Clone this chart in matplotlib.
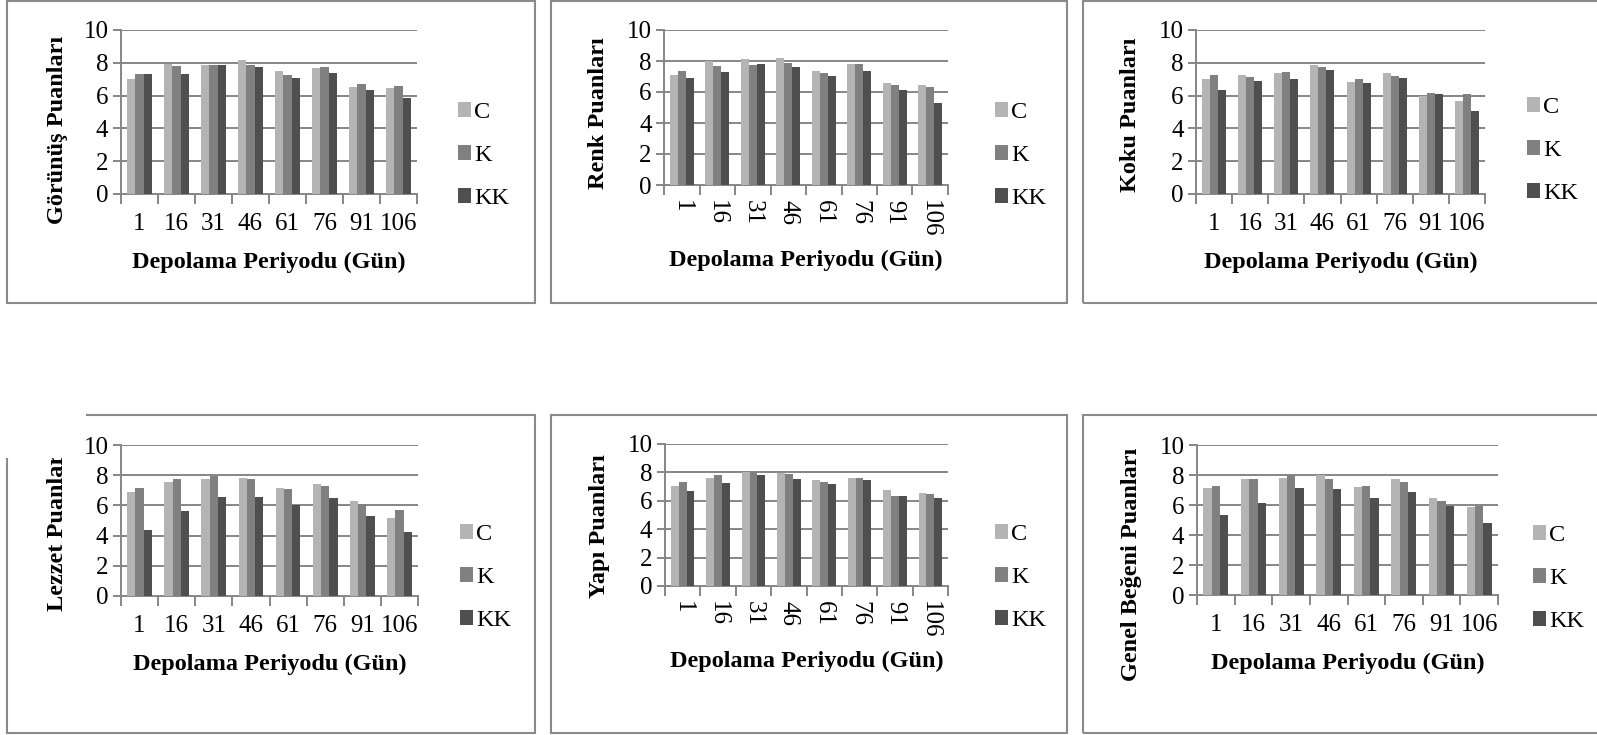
import numpy as np
import matplotlib
matplotlib.use("Agg")
import matplotlib.pyplot as plt
from matplotlib.patches import Rectangle, Patch

days = ["1", "16", "31", "46", "61", "76", "91", "106"]
series = ["C", "K", "KK"]
colors = ["#b4b4b4", "#808080", "#4f4f4f"]

gorunus_C = [7.0, 7.93, 7.87, 8.15, 7.52, 7.66, 6.52, 6.48]
gorunus_K = [7.3, 7.83, 7.87, 7.87, 7.28, 7.74, 6.69, 6.59]
gorunus_KK = [7.3, 7.32, 7.87, 7.76, 7.09, 7.40, 6.32, 5.85]

renk_C = [7.10, 8.03, 8.11, 8.18, 7.34, 7.83, 6.55, 6.42]
renk_K = [7.34, 7.68, 7.77, 7.88, 7.25, 7.83, 6.42, 6.31]
renk_KK = [6.91, 7.32, 7.79, 7.60, 7.04, 7.38, 6.16, 5.28]

koku_C = [6.99, 7.27, 7.35, 7.86, 6.84, 7.37, 5.99, 5.68]
koku_K = [7.27, 7.13, 7.41, 7.76, 7.03, 7.17, 6.17, 6.07]
koku_KK = [6.35, 6.86, 7.03, 7.56, 6.74, 7.05, 6.09, 5.07]

lezzet_C = [6.91, 7.56, 7.73, 7.82, 7.16, 7.42, 6.27, 5.18]
lezzet_K = [7.16, 7.78, 7.98, 7.76, 7.09, 7.27, 6.09, 5.67]
lezzet_KK = [4.40, 5.64, 6.56, 6.58, 6.04, 6.49, 5.33, 4.27]

yapi_C = [7.07, 7.63, 8.05, 7.93, 7.49, 7.63, 6.76, 6.57]
yapi_K = [7.32, 7.79, 8.00, 7.86, 7.30, 7.58, 6.34, 6.48]
yapi_KK = [6.67, 7.25, 7.79, 7.51, 7.21, 7.49, 6.36, 6.20]

genel_C = [7.13, 7.71, 7.80, 7.98, 7.22, 7.76, 6.44, 5.84]
genel_K = [7.27, 7.71, 7.98, 7.73, 7.29, 7.56, 6.27, 5.96]
genel_KK = [5.33, 6.16, 7.11, 7.07, 6.44, 6.87, 5.96, 4.78]

ylabels = ["Görünüş Puanları", "Renk Puanları", "Koku Puanları",
           "Lezzet Puanları", "Yapı Puanları", "Genel Beğeni Puanları"]
xlabel = "Depolama Periyodu (Gün)"
yticks = [0, 2, 4, 6, 8, 10]

W, H = 1597, 735
plt.rcParams['font.family'] = ['Liberation Serif', 'DejaVu Serif']
fig = plt.figure(figsize=(W / 100, H / 100), dpi=100)

def rect(x0, y0, x1, y1):
    return [x0 / W, 1 - y1 / H, (x1 - x0) / W, (y1 - y0) / H]

panels = [
    # data, axes px box, rotated xticks, legend(left, top), ylabel (x, y centre), border box
    ((gorunus_C, gorunus_K, gorunus_KK), (121, 30, 417, 194), False, (458, 102), (58, 130), (7, 1, 535, 303)),
    ((renk_C, renk_K, renk_KK), (664, 30, 948, 185), True, (995, 102), (599, 113), (551, 1, 1067, 303)),
    ((koku_C, koku_K, koku_KK), (1196, 30, 1485, 194), False, (1527, 97), (1131, 115), (1083, 1, 1640, 303)),
    ((lezzet_C, lezzet_K, lezzet_KK), (121, 445, 418, 596), False, (460, 524), (58, 529), (7, 415, 535, 733)),
    ((yapi_C, yapi_K, yapi_KK), (665, 444, 948, 586), True, (995, 524), (599, 526), (551, 415, 1067, 733)),
    ((genel_C, genel_K, genel_KK), (1197, 445, 1498, 595), False, (1533, 525), (1131, 564), (1083, 415, 1640, 733)),
]

grid_col = "#868686"
x = np.arange(len(days))
bw = 0.222

for i, (data, box, rot, leg, ylpos, border) in enumerate(panels):
    bx0, by0, bx1, by1 = border
    fig.patches.append(Rectangle((bx0 / W, 1 - by1 / H), (bx1 - bx0) / W, (by1 - by0) / H,
                                 transform=fig.transFigure, fill=False,
                                 edgecolor="#8a8a8a", linewidth=1.5, zorder=-1))
    ax = fig.add_axes(rect(*box))
    for j, vals in enumerate(data):
        ax.bar(x + (j - 1) * bw, vals, width=bw, color=colors[j], label=series[j],
               zorder=3, linewidth=0)
    ax.set_xlim(-0.5, len(days) - 0.5)
    ax.set_ylim(0, 10)
    ax.set_yticks(yticks)
    ax.set_yticklabels([str(t) for t in yticks], fontsize=18)
    for t in yticks[1:]:
        ax.axhline(t, color=grid_col, linewidth=1.4, zorder=1)
    for s in ["top", "right"]:
        ax.spines[s].set_visible(False)
    for s in ["left", "bottom"]:
        ax.spines[s].set_color(grid_col)
        ax.spines[s].set_linewidth(1.4)
    ax.set_xticks(x)
    if rot:
        ax.set_xticklabels(days, fontsize=18, rotation=-90, va="top", ha="center")
        ax.tick_params(axis="x", which="major", length=0, pad=11)
        lp = 9
    else:
        ax.set_xticklabels(days, fontsize=18)
        ax.tick_params(axis="x", which="major", length=0, pad=14)
        lp = 12
    ax.set_xticks(np.arange(-0.5, len(days)), minor=True)
    ax.tick_params(axis="x", which="minor", length=7, width=1.4, color=grid_col, direction="out")
    ax.tick_params(axis="y", which="major", length=6, width=1.4, color=grid_col, direction="out", pad=3)
    ax.set_xlabel(xlabel, fontsize=17.5, fontweight="bold", labelpad=lp)
    ax.set_ylabel(ylabels[i], fontsize=17.5, fontweight="bold")
    ax.yaxis.set_label_coords(ylpos[0] / W, 1 - ylpos[1] / H, transform=fig.transFigure)
    ax.yaxis.label.set_va("center")
    handles = [Patch(facecolor=colors[k], edgecolor="none") for k in range(3)]
    lx, ly = leg
    ax.legend(handles, series, loc="upper left", bbox_to_anchor=(lx / W, 1 - ly / H),
              bbox_transform=fig.transFigure, frameon=False, fontsize=17.5,
              handlelength=0.55, handleheight=0.55, handletextpad=0.12,
              labelspacing=0.91, borderpad=0, borderaxespad=0)
    ax.set_facecolor("none")

# white scan artefact at top-left of the fourth panel
fig.patches.append(Rectangle((0, 1 - 458 / H), 86 / W, (458 - 405) / H,
                             transform=fig.transFigure, facecolor="white",
                             edgecolor="none", zorder=10))

fig.savefig("out.png", dpi=100, facecolor="white")
